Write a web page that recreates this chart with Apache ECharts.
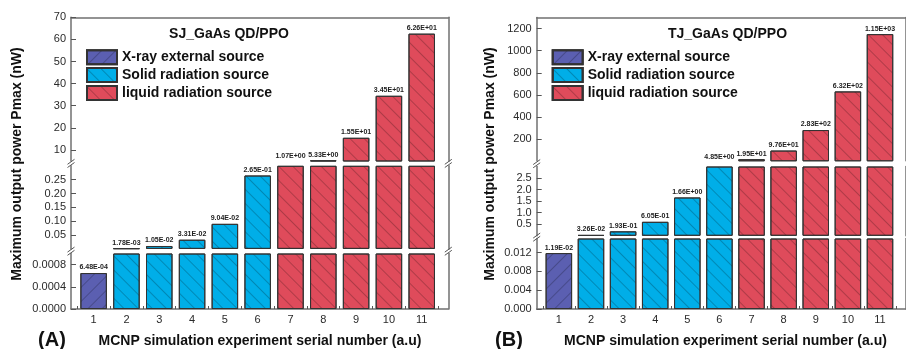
<!DOCTYPE html>
<html><head><meta charset="utf-8">
<script src="https://cdn.jsdelivr.net/npm/echarts@6/dist/echarts.min.js"></script>
<style>html,body{margin:0;padding:0;background:#fff}#c{width:906px;height:349px}</style>
</head><body><div id="c"></div>
<script>
// ---------- data ----------
const categories = ['1','2','3','4','5','6','7','8','9','10','11'];
const sourceNames = ['X-ray external source','Solid radiation source','liquid radiation source'];
const sourceType = [0,1,1,1,1,1,2,2,2,2,2];
const valuesA = [6.48e-4, 1.78e-3, 1.05e-2, 3.31e-2, 9.04e-2, 2.65e-1, 1.07, 5.33, 15.5, 34.5, 62.6];
const valuesB = [1.19e-2, 3.26e-2, 1.93e-1, 6.05e-1, 1.66, 4.85, 19.5, 97.6, 283, 632, 1150];
// broken y-axis segments [min, max], lowest first
const segA = [[0, 0.001], [0, 0.3], [5, 70]];
const segB = [[0, 0.015], [0, 3], [5, 1300]];
const ticksALow = [0, 0.0004, 0.0008];
const ticksAMid = [0.05, 0.10, 0.15, 0.20, 0.25];
const ticksAHigh = [10, 20, 30, 40, 50, 60, 70];
const ticksBLow = [0, 0.004, 0.008, 0.012];
const ticksBMid = [0.5, 1.0, 1.5, 2.0, 2.5];
const ticksBHigh = [200, 400, 600, 800, 1000, 1200];
const decA = [4, 2, 0];
const decB = [3, 1, 0];
const titleA = 'SJ_GaAs QD/PPO';
const titleB = 'TJ_GaAs QD/PPO';
const xTitle = 'MCNP simulation experiment serial number (a.u)';
const yTitle = 'Maximum output power Pmax (nW)';

// ---------- style / layout ----------
const FONT = 'Liberation Sans, Arial, Helvetica, sans-serif';
const colors = ['#5b5fb1', '#00aee8', '#df4b5b'];
const hatchRot = [-Math.PI / 4, Math.PI / 4, Math.PI / 4];
const xMin = 0.31, xMax = 11.81;
const axisColor = '#707070';
const layoutA = {left: 71, width: 377.3, pix: [[253.5, 309], [165.8, 248.9], [17.3, 161]], legendLeft: 86, titleX: 229, tagX: 52, yTitleX: 17, xTitleX: 260};
const layoutB = {left: 536.7, width: 377.3, pix: [[238.5, 309], [166.5, 235.8], [17.5, 160.8]], legendLeft: 551.7, titleX: 727.5, tagX: 509, yTitleX: 490, xTitleX: 725.5};

function fmtE(v) {
  const parts = v.toExponential(2).split('e');
  const n = parseInt(parts[1], 10);
  return parts[0] + 'E' + (n < 0 ? '-' : '+') + String(Math.abs(n)).padStart(2, '0');
}
function labelSeg(v, seg) {
  for (let k = 0; k < seg.length; k++) {
    const prevMax = k > 0 ? seg[k - 1][1] : -Infinity;
    if (v <= seg[k][1]) {
      if (v > prevMax && v >= seg[k][0]) return {k: k, clamped: false};
      return {k: k - 1, clamped: true};
    }
  }
  return {k: seg.length - 1, clamped: true};
}

const panels = [
  {values: valuesA, seg: segA, ticks: [ticksALow, ticksAMid, ticksAHigh], dec: decA, title: titleA, tag: '(A)', L: layoutA},
  {values: valuesB, seg: segB, ticks: [ticksBLow, ticksBMid, ticksBHigh], dec: decB, title: titleB, tag: '(B)', L: layoutB}
];

const grids = [], xAxes = [], yAxes = [], series = [], graphics = [], legends = [];
const xLabelVals = categories.map((c, i) => i + 1);
const xTickVals = categories.map((c, i) => i + 0.5).concat([categories.length + 0.5]);

panels.forEach((p) => {
  const L = p.L;
  p.seg.forEach((s, k) => {
    const g = grids.length;
    const top = L.pix[k][0], bottom = L.pix[k][1];
    grids.push({left: L.left, top: top, width: L.width, height: bottom - top, containLabel: false});
    const xi = xAxes.length;
    xAxes.push({
      type: 'value', gridIndex: g, min: xMin, max: xMax, show: k === 0, position: 'bottom',
      axisLine: {show: true, onZero: false, lineStyle: {color: axisColor, width: 1.5}},
      axisTick: {show: true, inside: true, length: 3, customValues: xTickVals, lineStyle: {color: '#555'}},
      axisLabel: {show: true, customValues: xLabelVals, margin: 5, fontSize: 11, color: '#2a2a2a', fontFamily: FONT,
        formatter: (v) => categories[Math.round(v) - 1]},
      splitLine: {show: false}
    });
    if (k === p.seg.length - 1) {
      xAxes.push({type: 'value', gridIndex: g, min: xMin, max: xMax, position: 'top',
        axisLine: {show: true, onZero: false, lineStyle: {color: axisColor, width: 1.5}},
        axisTick: {show: false}, axisLabel: {show: false}, splitLine: {show: false}});
    }
    const yi = yAxes.length;
    const dec = p.dec[k];
    yAxes.push({
      type: 'value', gridIndex: g, min: s[0], max: s[1], position: 'left',
      axisLine: {show: true, onZero: false, lineStyle: {color: axisColor, width: 1.5}},
      axisTick: {show: true, inside: true, length: 5, customValues: p.ticks[k], lineStyle: {color: '#555'}},
      axisLabel: {show: true, customValues: p.ticks[k], margin: 5, fontSize: 11, color: '#2a2a2a', fontFamily: FONT,
        formatter: (v) => Number(v).toFixed(dec)},
      splitLine: {show: false}
    });
    yAxes.push({
      type: 'value', gridIndex: g, min: s[0], max: s[1], position: 'right',
      axisLine: {show: true, onZero: false, lineStyle: {color: axisColor, width: 1.5}},
      axisTick: {show: false}, axisLabel: {show: false}, splitLine: {show: false}
    });
    const prevMax = k > 0 ? p.seg[k - 1][1] : -Infinity;
    for (let t = 0; t < 3; t++) {
      const data = [];
      p.values.forEach((v, i) => {
        if (sourceType[i] !== t) return;
        const draw = v > prevMax && v >= s[0];
        const ls = labelSeg(v, p.seg);
        const item = {value: [i + 1, draw ? Math.min(v, s[1]) : '-']};
        if (draw && ls.k === k) {
          item.label = {show: true, formatter: fmtE(v), offset: ls.clamped ? [0, -4] : [0, 0]};
        }
        data.push(item);
      });
      series.push({
        name: sourceNames[t], type: 'bar', xAxisIndex: xi, yAxisIndex: yi,
        barWidth: 26.5, barGap: '-100%', clip: true, data: data,
        itemStyle: {
          color: colors[t], borderColor: '#333', borderWidth: 1,
          decal: {symbol: 'rect', symbolSize: 1, dashArrayX: [1, 0], dashArrayY: [1, 9], rotation: hatchRot[t], color: 'rgba(0,0,0,0.22)'}
        },
        label: {show: false, position: 'top', distance: 2, fontSize: 7, fontWeight: 'bold', color: '#222', fontFamily: FONT},
        emphasis: {disabled: true}, animation: false
      });
    }
  });

  // break marks
  for (let k = 0; k < p.seg.length - 1; k++) {
    const y = (L.pix[k][0] + L.pix[k + 1][1]) / 2;
    [L.left, L.left + L.width].forEach((x) => {
      if (x > 906) return;
      [-1.6, 1.6].forEach((dy) => {
        graphics.push({type: 'line', silent: true, z: 100,
          shape: {x1: x - 3.5, y1: y + dy + 2.5, x2: x + 3.5, y2: y + dy - 2.5},
          style: {stroke: '#555', lineWidth: 1}});
      });
    });
  }
  // texts
  graphics.push({type: 'text', x: L.titleX, y: 34, silent: true,
    style: {text: p.title, font: 'bold 14px ' + FONT, fill: '#111', align: 'center', verticalAlign: 'middle', textAlign: 'center', textVerticalAlign: 'middle'}});
  graphics.push({type: 'text', x: L.yTitleX, y: 164, rotation: Math.PI / 2, silent: true,
    style: {text: yTitle, font: 'bold 14px ' + FONT, fill: '#111', align: 'center', verticalAlign: 'middle', textAlign: 'center', textVerticalAlign: 'middle'}});
  graphics.push({type: 'text', x: L.xTitleX, y: 341, silent: true,
    style: {text: xTitle, font: 'bold 14px ' + FONT, fill: '#111', align: 'center', verticalAlign: 'middle', textAlign: 'center', textVerticalAlign: 'middle'}});
  graphics.push({type: 'text', x: L.tagX, y: 340, silent: true,
    style: {text: p.tag, font: 'bold 20px ' + FONT, fill: '#111', align: 'center', verticalAlign: 'middle', textAlign: 'center', textVerticalAlign: 'middle'}});

  legends.push({
    left: L.legendLeft, top: 49.3, orient: 'vertical', padding: 0, itemWidth: 30, itemHeight: 14, itemGap: 1.8,
    icon: 'rect', selectedMode: false, data: sourceNames,
    textStyle: {fontSize: 14, fontWeight: 'bold', color: '#111', fontFamily: FONT}
  });
});

const chart = echarts.init(document.getElementById('c'), null, {renderer: 'canvas'});
chart.setOption({
  animation: false,
  backgroundColor: '#fff',
  textStyle: {fontFamily: FONT},
  grid: grids, xAxis: xAxes, yAxis: yAxes, series: series, legend: legends, graphic: graphics
});
</script></body></html>
